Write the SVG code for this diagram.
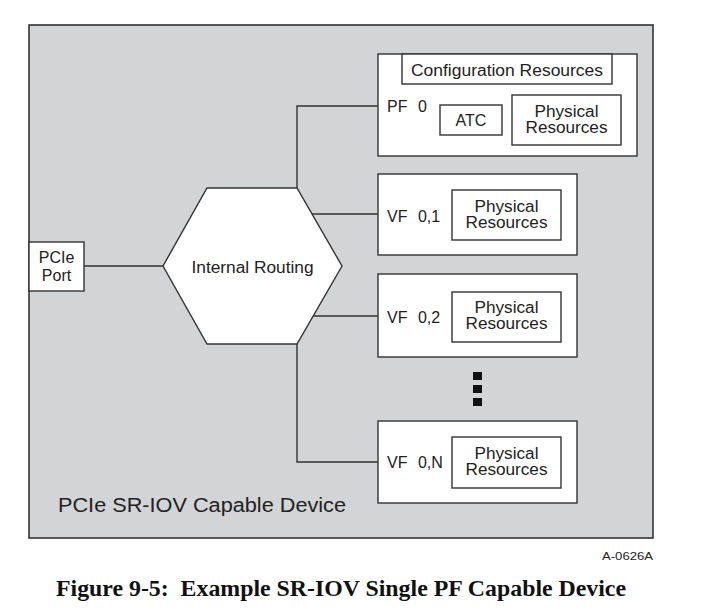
<svg xmlns="http://www.w3.org/2000/svg" width="701" height="613" viewBox="0 0 701 613">
<style>
.box{fill:#fff;stroke:#333;stroke-width:1.4}
.lbl{font-family:"Liberation Sans",Arial,sans-serif;font-size:16px;fill:#222}
.c{text-anchor:middle}
.conn{fill:none;stroke:#333;stroke-width:1.4}
.dot{fill:#111}
</style>
<rect width="701" height="613" fill="#fff"/>
<g id="device">
<rect x="29" y="25" width="624" height="513" fill="#d3d4d6" stroke="#333" stroke-width="1.6"/>
<text class="lbl" x="58" y="512" style="font-size:20px" textLength="288" lengthAdjust="spacingAndGlyphs">PCIe SR-IOV Capable Device</text>
</g>
<g id="connectors">
<path class="conn" d="M84,266 H163"/>
<path class="conn" d="M297,188 V106 H378"/>
<path class="conn" d="M312,214 H378"/>
<path class="conn" d="M313,316 H378"/>
<path class="conn" d="M297,344 V462 H378"/>
</g>
<g id="pcie-port">
<rect class="box" x="29" y="242" width="55" height="49"/>
<text class="lbl c" x="56.5" y="263">PCIe</text>
<text class="lbl c" x="56.5" y="281">Port</text>
</g>
<g id="internal-routing">
<polygon class="box" points="207,188 297,188 342,266 297,344 207,344 163,266"/>
<text class="lbl c" x="252.5" y="273" textLength="122" lengthAdjust="spacingAndGlyphs">Internal Routing</text>
</g>
<g id="pf0">
<rect class="box" x="378" y="54" width="259" height="102"/>
<rect class="box" x="402" y="54" width="210" height="30"/>
<text class="lbl c" x="507" y="76" textLength="192" lengthAdjust="spacingAndGlyphs">Configuration Resources</text>
<text class="lbl" x="387" y="112" style="word-spacing:6px">PF 0</text>
<rect class="box" x="440" y="105" width="62" height="30"/>
<text class="lbl c" x="471" y="126">ATC</text>
<rect class="box" x="512" y="95" width="109" height="50"/>
<text class="lbl c" x="566.5" y="117" textLength="64" lengthAdjust="spacingAndGlyphs">Physical</text>
<text class="lbl c" x="566.5" y="133" textLength="82" lengthAdjust="spacingAndGlyphs">Resources</text>
</g>
<g id="vf01">
<rect class="box" x="378" y="174" width="199" height="81"/>
<text class="lbl" x="387" y="222" style="word-spacing:6px">VF 0,1</text>
<rect class="box" x="452" y="190" width="109" height="50"/>
<text class="lbl c" x="506.5" y="212" textLength="64" lengthAdjust="spacingAndGlyphs">Physical</text>
<text class="lbl c" x="506.5" y="228" textLength="82" lengthAdjust="spacingAndGlyphs">Resources</text>
</g>
<g id="vf02">
<rect class="box" x="378" y="274" width="199" height="83"/>
<text class="lbl" x="387" y="323" style="word-spacing:6px">VF 0,2</text>
<rect class="box" x="452" y="292" width="109" height="50"/>
<text class="lbl c" x="506.5" y="313" textLength="64" lengthAdjust="spacingAndGlyphs">Physical</text>
<text class="lbl c" x="506.5" y="329" textLength="82" lengthAdjust="spacingAndGlyphs">Resources</text>
</g>
<g id="ellipsis">
<rect class="dot" x="473" y="372" width="9" height="8"/>
<rect class="dot" x="473" y="385" width="9" height="8"/>
<rect class="dot" x="473" y="398" width="9" height="8"/>
</g>
<g id="vf0n">
<rect class="box" x="378" y="421" width="199" height="82"/>
<text class="lbl" x="387" y="468" style="word-spacing:6px">VF 0,N</text>
<rect class="box" x="452" y="437" width="109" height="51"/>
<text class="lbl c" x="506.5" y="459" textLength="64" lengthAdjust="spacingAndGlyphs">Physical</text>
<text class="lbl c" x="506.5" y="475" textLength="82" lengthAdjust="spacingAndGlyphs">Resources</text>
</g>
<text x="653" y="560" text-anchor="end" textLength="51" lengthAdjust="spacingAndGlyphs" style="font-family:'Liberation Sans',Arial,sans-serif;font-size:11px;fill:#222">A-0626A</text>
<text x="56" y="596" textLength="570" lengthAdjust="spacingAndGlyphs" style="font-family:'Liberation Serif','Times New Roman',serif;font-size:24px;font-weight:bold;fill:#111" xml:space="preserve">Figure 9-5:  Example SR-IOV Single PF Capable Device</text>
</svg>
